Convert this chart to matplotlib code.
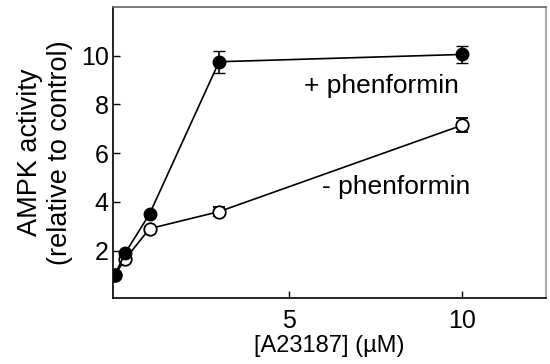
import numpy as np
import matplotlib.pyplot as plt

plt.rcParams['font.family'] = ['Liberation Sans', 'DejaVu Sans']

# === Data ===
conc = [0, 0.3, 1, 3, 10]
plus_phen = [1.0, 1.9, 3.5, 9.75, 10.05]
plus_err = [0, 0, 0, 0.45, 0.35]
minus_phen = [1.0, 1.65, 2.9, 3.6, 7.15]
minus_err = [0, 0, 0, 0.2, 0.3]

# === Plot ===
fig = plt.figure(figsize=(5.5, 3.64), dpi=100)
ax = fig.add_axes([0.2055, 0.181, 0.787, 0.80])

ax.errorbar(conc, minus_phen, yerr=minus_err, color='black', marker='o', mfc='white',
            mec='black', mew=1.3, ms=9, lw=1.2, capsize=4, elinewidth=1.2, zorder=2)
ax.errorbar(conc, plus_phen, yerr=plus_err, color='black', marker='o', mfc='black',
            mec='black', ms=9, lw=1.2, capsize=4, elinewidth=1.2, zorder=3)

ax.text(5.45, 8.75, '+ phenformin', fontsize=19, va='center')
ax.text(5.95, 4.6, '- phenformin', fontsize=19, va='center')

ax.set_xlim(-0.05, 12.4)
ax.set_ylim(0.05, 12)
ax.set_xticks([5, 10])
ax.set_yticks([2, 4, 6, 8, 10])
ax.tick_params(direction='in', length=5, width=1, labelsize=18)
ax.tick_params(axis='x', pad=8)
ax.tick_params(axis='y', pad=3)
ax.set_xlabel('[A23187] (µM)', fontsize=17, labelpad=1)
ax.set_ylabel('AMPK activity\n(relative to control)', fontsize=19.5, labelpad=6)
for s in ax.spines.values():
    s.set_linewidth(1.2)
ax.spines['top'].set_color('0.4')
ax.spines['right'].set_color('0.6')

plt.savefig('out.png', dpi=100)
